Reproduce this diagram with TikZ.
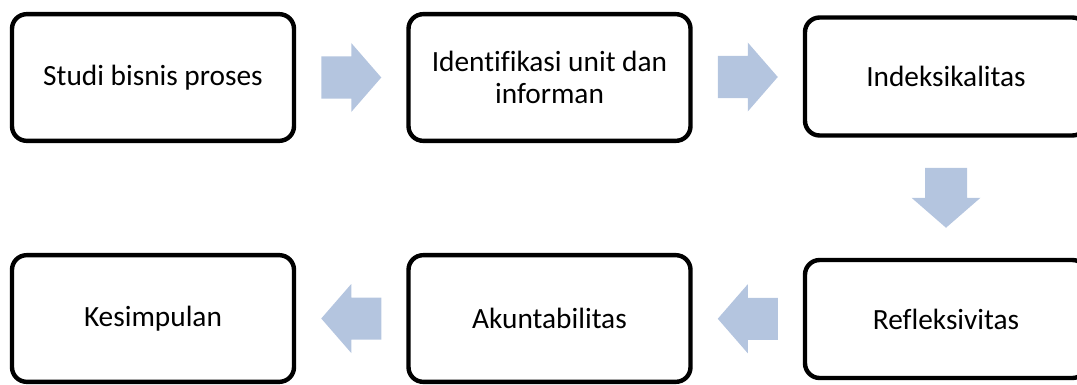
\documentclass[tikz,border=0pt]{standalone}
\usepackage{fontspec}
\setmainfont{Carlito}[Ligatures=NoCommon]
\usetikzlibrary{calc}
\definecolor{flowblue}{RGB}{180,197,223}

\tikzset{
  stepbox/.style={draw=black, line width=3.3pt, rounded corners=11pt,
    fill=white, minimum width=211.5pt, minimum height=95pt,
    align=center, inner sep=0pt, font=\fontsize{22}{24}\selectfont},
  pics/blockarrow/.style={code={
    \fill[flowblue] (-30,-21) -- (0,-21) -- (0,-34.5) -- (30,0)
      -- (0,34.5) -- (0,21) -- (-30,21) -- cycle;}}
}

\begin{document}
\begin{tikzpicture}[x=0.75pt, y=-0.75pt]

  %% Page frame
  \path[use as bounding box] (0,0) rectangle (1077,385);
  \clip (0,0) rectangle (1077,385);

  %% Top row
  \node[stepbox] (studi) at (153,77.5) {Studi bisnis proses};
  \node[stepbox] (identif) at (549.5,77.5) {Identifikasi unit dan\\informan};
  \node[stepbox, minimum height=88.5pt] (indeks) at (946,76.5) {Indeksikalitas};

  %% Bottom row
  \node[stepbox] (kesimp) at (153,318.5) {Kesimpulan};
  \node[stepbox] (akunt) at (549.5,318.5) {Akuntabilitas};
  \node[stepbox, minimum height=88.5pt] (refleks) at (946,319) {Refleksivitas};

  %% Block arrows
  \pic at ($(studi.east)!0.5!(identif.west)$) {blockarrow};
  \pic at ($(identif.east)!0.5!(indeks.west)$) {blockarrow};
  \pic[rotate=-90] at ($(indeks.south)!0.5!(refleks.north)$) {blockarrow};
  \pic[rotate=180] at ($(refleks.west)!0.5!(akunt.east)$) {blockarrow};
  \pic[rotate=180] at ($(akunt.west)!0.5!(kesimp.east)$) {blockarrow};

\end{tikzpicture}
\end{document}
